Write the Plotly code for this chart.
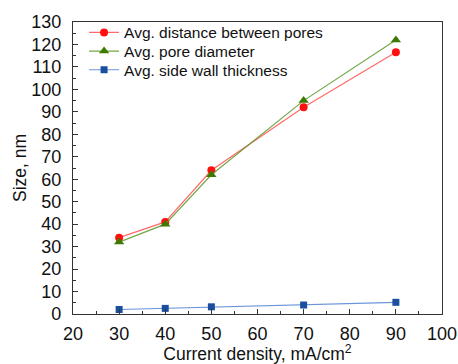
import plotly.graph_objects as go

current = [30, 40, 50, 70, 90]
dist_pores = [34, 41, 64, 92, 116.5]
pore_diam = [32, 40, 62, 95, 122]
wall_thick = [2.0, 2.5, 3.2, 4.0, 5.2]

fig = go.Figure()
fig.add_trace(go.Scatter(x=current, y=dist_pores, mode="lines+markers",
                         name="Avg. distance between pores", legend="legend",
                         line=dict(color="rgba(255,80,80,0.85)", width=1.2),
                         marker=dict(symbol="circle", size=8, color="#ff1010")))
fig.add_trace(go.Scatter(x=current, y=pore_diam, mode="lines+markers",
                         name="Avg. pore diameter", legend="legend2",
                         line=dict(color="rgba(90,150,40,0.85)", width=1.2),
                         marker=dict(symbol="triangle-up", size=9, color="#3c7a00")))
fig.add_trace(go.Scatter(x=current, y=wall_thick, mode="lines+markers",
                         name="Avg. side wall thickness", legend="legend3",
                         line=dict(color="rgba(80,130,210,0.85)", width=1.2),
                         marker=dict(symbol="square", size=7, color="#1a4fa0")))

font = "Liberation Sans"
axis_common = dict(showline=True, linecolor="#333", linewidth=1.2, mirror=True,
                   ticks="inside", ticklen=5, tickcolor="#333", showgrid=False,
                   zeroline=False,
                   tickfont=dict(family=font, size=18, color="#111"))


def leg(y):
    return dict(x=0.03, y=y, xanchor="left", yanchor="middle",
                bgcolor="rgba(0,0,0,0)", font=dict(family=font, size=15.5))


fig.update_layout(
    width=458, height=364,
    margin=dict(l=73, r=16, t=17, b=50),
    paper_bgcolor="white", plot_bgcolor="white",
    font=dict(family=font, color="#111"),
    showlegend=True,
    legend=leg(0.963), legend2=leg(0.899), legend3=leg(0.835),
    xaxis=dict(range=[20, 100], dtick=10, automargin=False, ticklabelstandoff=3,
               title=dict(text="Current density, mA/cm<sup>2</sup>",
                          font=dict(family=font, size=17.5)),
               minor=dict(ticks="inside", ticklen=3, dtick=5, tickcolor="#333"), **axis_common),
    yaxis=dict(range=[0, 130], dtick=10, automargin=True, ticklabelstandoff=7,
               title=dict(text="Size, nm", font=dict(family=font, size=17.5), standoff=0),
               minor=dict(ticks="inside", ticklen=3, dtick=5, tickcolor="#333"), **axis_common),
)
fig.write_html("out.html", config={"displayModeBar": False},
               post_script="document.body.style.margin='0';document.body.style.padding='0';")
